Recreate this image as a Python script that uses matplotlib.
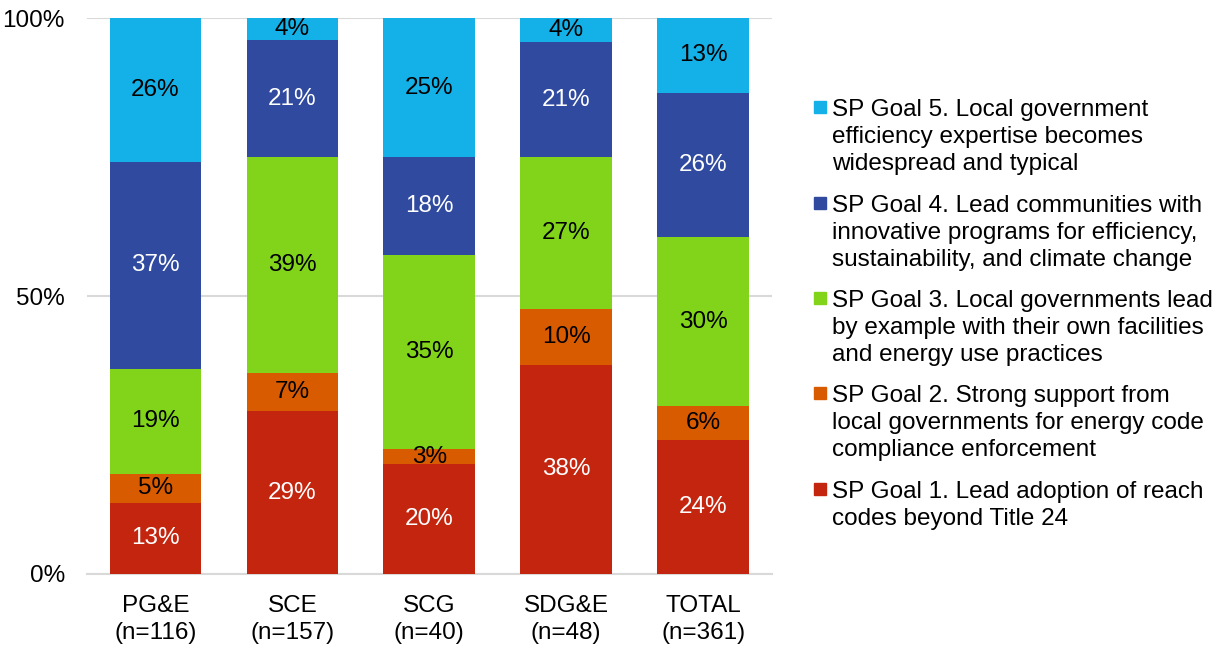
import numpy as np
import matplotlib.pyplot as plt
from matplotlib.patches import Rectangle

plt.rcParams['font.family'] = ['Liberation Sans', 'DejaVu Sans']

# categories and stacked shares (percent)
categories = ['PG&E\n(n=116)', 'SCE\n(n=157)', 'SCG\n(n=40)', 'SDG&E\n(n=48)', 'TOTAL\n(n=361)']
goal1 = [12.8, 29.3, 19.8, 37.6, 24.1]
goal2 = [5.2, 6.9, 2.6, 10.1, 6.1]
goal3 = [18.9, 38.8, 35.0, 27.3, 30.4]
goal4 = [37.2, 21.0, 17.6, 20.7, 26.0]
goal5 = [25.9, 4.0, 25.0, 4.3, 13.4]

series_names = [
    'SP Goal 1. Lead adoption of reach\ncodes beyond Title 24',
    'SP Goal 2. Strong support from\nlocal governments for energy code\ncompliance enforcement',
    'SP Goal 3. Local governments lead\nby example with their own facilities\nand energy use practices',
    'SP Goal 4. Lead communities with\ninnovative programs for efficiency,\nsustainability, and climate change',
    'SP Goal 5. Local government\nefficiency expertise becomes\nwidespread and typical',
]
colors = ['#C4250E', '#D95B00', '#81D41A', '#2F4A9E', '#13B1E8']
text_colors = ['white', 'black', 'black', 'white', 'black']

FS = 17.5

fig = plt.figure(figsize=(12.17, 6.46), dpi=100)
ax = fig.add_axes([0.0715, 0.1115, 0.5625, 0.8605])

x = np.arange(len(categories))
series = [goal1, goal2, goal3, goal4, goal5]
bottom = np.zeros(len(categories))
for vals, col, tc in zip(series, colors, text_colors):
    vals = np.array(vals)
    ax.bar(x, vals, bottom=bottom, width=0.67, color=col, zorder=3)
    for xi, b, v in zip(x, bottom, vals):
        ax.text(xi, b + v / 2, f'{v:.0f}%', ha='center', va='center',
                color=tc, fontsize=FS, zorder=4)
    bottom += vals

ax.set_xlim(-0.5, len(categories) - 0.5)
ax.set_ylim(0, 100)
ax.set_yticks([0, 50, 100])
ax.set_yticklabels(['0%', '50%', '100%'])
ax.set_xticks(x)
ax.set_xticklabels(categories, linespacing=1.3)
ax.tick_params(length=0, labelsize=FS)
ax.tick_params(axis='x', pad=15)
ax.tick_params(axis='y', pad=16)
ax.yaxis.grid(True, color='#D9D9D9', linewidth=1.5, zorder=0)
for s in ['left', 'right', 'top']:
    ax.spines[s].set_visible(False)
ax.spines['bottom'].set_color('#D9D9D9')
ax.spines['bottom'].set_linewidth(1.5)

# legend drawn by hand so the square sits on the first line of each entry
W, H = 1217, 646
legend_tops = [489, 393, 298, 203, 107]
for name, col, y in zip(series_names, colors, legend_tops):
    fig.patches.append(Rectangle((814 / W, 1 - (y + 6) / H), 12 / W, 12 / H,
                                 transform=fig.transFigure, color=col))
    fig.text(832 / W, 1 - (y - 8) / H, name, fontsize=FS, va='top', ha='left',
             linespacing=1.28)

fig.savefig('out.png', dpi=100)
